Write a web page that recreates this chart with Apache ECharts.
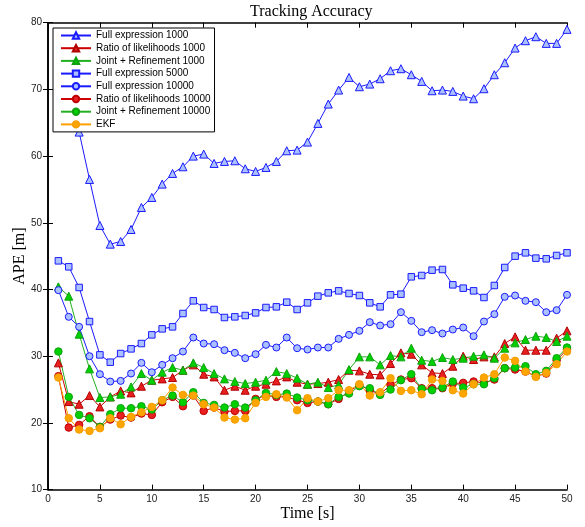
<!DOCTYPE html>
<html>
<head>
<meta charset="utf-8">
<script src="https://cdn.jsdelivr.net/npm/echarts@6/dist/echarts.min.js"></script>
<style>
html,body{margin:0;padding:0;background:#fff;}
#chart{width:585px;height:527px;}
</style>
</head>
<body>
<div id="chart"></div>
<script>
var timeS = [1,2,3,4,5,6,7,8,9,10,11,12,13,14,15,16,17,18,19,20,21,22,23,24,25,26,27,28,29,30,31,32,33,34,35,36,37,38,39,40,41,42,43,44,45,46,47,48,49,50];
var seriesNames = ['Full expression 1000','Ratio of likelihoods 1000','Joint + Refinement 1000','Full expression 5000','Full expression 10000','Ratio of likelihoods 10000','Joint + Refinement 10000','EKF'];
var xTicks = [0,5,10,15,20,25,30,35,40,45,50];
var yTicks = [10,20,30,40,50,60,70,80];

var fullExpr1000 = [76,70,63.6,56.5,49.6,46.8,47.2,49.0,52.3,53.8,55.8,57.4,58.4,60.0,60.3,58.9,59.2,59.3,58.1,57.7,58.3,59.2,60.8,60.9,62.1,64.9,67.8,69.9,71.8,70.4,70.8,71.6,72.8,73.1,72.2,71.2,69.8,69.9,69.7,69.0,68.6,70.1,72.2,74.0,76.2,77.3,77.9,76.9,76.9,79.0];
var ratio1000 = [29.0,23.2,22.8,24.1,22.4,23.9,24.8,24.5,25.5,26.4,26.6,26.8,27.9,28.7,27.3,26.9,24.9,25.5,24.9,25.5,25.8,26.3,26.9,26.1,25.8,25.9,26.1,26.5,27.9,27.8,27.3,27.2,28.9,30.5,30.3,28.7,27.5,27.4,28.5,30.0,29.5,29.9,29.9,31.9,32.9,30.9,30.9,30.9,32.7,33.8];
var joint1000 = [40.4,39.0,33.3,28.1,23.8,23.9,24.3,25.4,27.4,26.4,27.6,28.3,27.9,29.0,28.3,27.4,26.6,26.2,25.9,26.1,26.4,27.7,27.4,26.7,25.8,26.1,25.3,25.7,28.0,29.9,29.9,28.7,30.1,29.9,31.2,29.4,29.2,29.8,29.5,29.7,30.0,30.2,29.7,31.2,32.0,32.5,33.0,32.8,32.2,33.0];
var fullExpr5000 = [44.3,43.4,40.3,35.2,30.2,29.1,30.4,31.1,31.9,33.2,34.1,34.4,36.4,38.3,37.3,37.0,35.8,35.9,36.1,36.5,37.3,37.4,38.1,37.0,38.0,39.0,39.5,39.8,39.4,39.1,38.0,37.4,39.2,39.3,41.9,42.1,42.9,43.0,40.7,40.2,39.8,38.8,40.6,43.3,45.0,45.5,44.7,44.6,45.1,45.5];
var fullExpr10000 = [39.9,35.9,34.4,30.0,27.3,26.2,26.3,27.4,29.0,27.6,28.7,29.7,30.7,32.8,31.9,31.8,30.9,30.5,29.7,30.3,31.7,31.3,32.8,31.2,31.0,31.3,31.3,32.6,33.2,33.8,35.1,34.6,34.8,36.6,35.3,33.6,33.9,33.4,34.0,34.3,33.0,35.2,36.3,38.9,39.1,38.3,38.1,36.6,36.9,39.2];
var ratio10000 = [27.0,19.3,19.7,21.0,19.4,20.5,21.1,20.8,21.4,21.2,23.1,23.9,22.5,24.1,21.8,22.3,21.7,21.8,21.8,23.6,24.1,23.9,23.9,23.4,23.0,23.2,22.8,23.6,24.7,25.7,24.9,24.3,25.7,26.5,26.7,25.2,25.2,25.2,25.9,26.0,26.2,26.0,26.5,28.2,28.0,27.7,27.0,27.4,29.4,31.0];
var joint10000 = [30.7,23.9,21.2,20.7,19.4,21.3,22.2,22.2,22.5,22.0,23.4,24.1,23.1,24.6,23.0,22.7,22.3,22.8,22.3,23.4,24.5,24.2,24.4,23.8,23.4,23.2,22.8,23.9,24.4,25.5,25.2,24.2,25.0,26.4,27.3,25.1,24.9,25.3,26.2,25.3,25.8,25.8,26.7,28.2,28.3,28.5,27.3,27.8,29.7,31.3];
var ekf = [26.8,20.7,19.0,18.8,19.2,20.7,19.8,20.9,21.6,22.4,23.4,25.3,24.2,24.1,22.8,22.3,20.8,20.5,20.7,23.0,23.9,24.3,23.8,21.9,23.7,23.2,23.7,24.9,24.9,25.8,24.1,24.6,26.7,24.8,24.9,24.3,26.5,26.3,24.9,24.4,25.8,26.8,27.3,29.8,29.3,27.7,26.9,27.5,28.8,30.7];

var values = [fullExpr1000, ratio1000, joint1000, fullExpr5000, fullExpr10000, ratio10000, joint10000, ekf];
var styles = [
  {sym:'triangle', size:8, line:'#1a1aff', fill:'#aac0ff', edge:'#1a1aff'},
  {sym:'triangle', size:8, line:'#cc0000', fill:'#e82020', edge:'#b00000'},
  {sym:'triangle', size:8, line:'#22b022', fill:'#00d000', edge:'#10a010'},
  {sym:'rect', size:6.5, line:'#1a1aff', fill:'#aac0ff', edge:'#1a1aff'},
  {sym:'circle', size:7, line:'#1a1aff', fill:'#aac0ff', edge:'#1a1aff'},
  {sym:'circle', size:7.5, line:'#cc0000', fill:'#e82020', edge:'#c00000'},
  {sym:'circle', size:7.5, line:'#22b022', fill:'#00d000', edge:'#10a010'},
  {sym:'circle', size:7.5, line:'#ffa000', fill:'#ffa500', edge:'#f5a000'}
];

var series = values.map(function(v, i){
  var s = styles[i];
  return {
    name: seriesNames[i],
    type: 'line',
    data: timeS.map(function(t, k){ return [t, v[k]]; }),
    symbol: s.sym,
    symbolSize: s.size,
    showAllSymbol: true,
    lineStyle: {color: s.line, width: 1},
    itemStyle: {color: s.fill, borderColor: s.edge, borderWidth: 1},
    emphasis: {disabled: true}
  };
});

var labelStyle = {fontFamily: 'Liberation Sans', fontSize: 10, color: '#222'};
var axisLine = {show: true, lineStyle: {color: '#000', width: 1.6}};
var tick = {show: true, inside: true, length: 5, lineStyle: {color: '#000', width: 1}};

var chart = echarts.init(document.getElementById('chart'), null, {renderer: 'canvas'});
chart.setOption({
  animation: false,
  backgroundColor: '#fff',
  title: {
    text: 'Tracking Accuracy',
    left: 245, top: -1,
    textStyle: {fontFamily: 'Liberation Serif', fontSize: 16, fontWeight: 'normal', color: '#000'}
  },
  legend: {
    orient: 'vertical',
    left: 53, top: 28,
    padding: [2.5, 4, 2.5, 7],
    itemWidth: 30, itemHeight: 8, itemGap: 2.7,
    backgroundColor: '#fff',
    borderColor: '#000', borderWidth: 1,
    textStyle: {fontFamily: 'Liberation Sans', fontSize: 10, color: '#000'},
    data: seriesNames,
    z: 10
  },
  grid: {left: 48, right: 18, top: 22.7, bottom: 37.4, containLabel: false, outerBoundsMode: 'none'},
  xAxis: [{
    type: 'value', min: xTicks[0], max: xTicks[xTicks.length-1], interval: 5,
    name: 'Time [s]', nameLocation: 'middle', nameGap: 16, nameMoveOverlap: false,
    nameTextStyle: {fontFamily: 'Liberation Serif', fontSize: 16, color: '#000'},
    axisLine: axisLine, axisTick: tick,
    axisLabel: Object.assign({margin: 5}, labelStyle),
    splitLine: {show: false}
  }, {
    type: 'value', position: 'top', min: xTicks[0], max: xTicks[xTicks.length-1], interval: 5,
    axisLine: axisLine, axisTick: tick, axisLabel: {show: false}, splitLine: {show: false}
  }],
  yAxis: [{
    type: 'value', min: yTicks[0], max: yTicks[yTicks.length-1], interval: 10,
    name: 'APE [m]', nameLocation: 'middle', nameGap: 20, nameMoveOverlap: false,
    nameTextStyle: {fontFamily: 'Liberation Serif', fontSize: 16, color: '#000'},
    axisLine: axisLine, axisTick: tick,
    axisLabel: Object.assign({margin: 6}, labelStyle),
    splitLine: {show: false}
  }, {
    type: 'value', position: 'right', min: yTicks[0], max: yTicks[yTicks.length-1], interval: 10,
    axisLine: axisLine, axisTick: tick, axisLabel: {show: false}, splitLine: {show: false}
  }],
  series: series
});
</script>
</body>
</html>
